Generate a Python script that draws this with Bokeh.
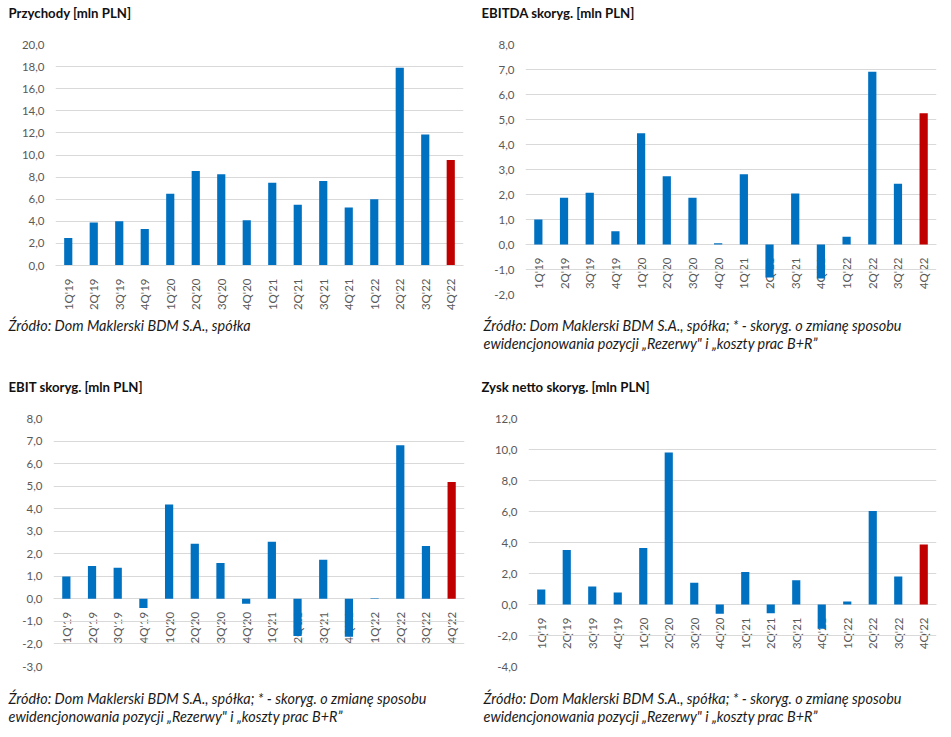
import numpy as np
from bokeh.plotting import figure
from bokeh.models import Range1d, FactorRange, FixedTicker, Title, CustomJSTickFormatter
from bokeh.layouts import row, column
from bokeh.embed import file_html
from bokeh.resources import INLINE

quarters = ["1Q'19", "2Q'19", "3Q'19", "4Q'19", "1Q'20", "2Q'20", "3Q'20", "4Q'20",
            "1Q'21", "2Q'21", "3Q'21", "4Q'21", "1Q'22", "2Q'22", "3Q'22", "4Q'22"]
forecast_quarter = "4Q'22"

przychody = [2.5, 3.9, 4.0, 3.3, 6.5, 8.55, 8.25, 4.1, 7.5, 5.5, 7.65, 5.25, 6.0, 17.9, 11.85, 9.55]
ebitda = [1.0, 1.87, 2.07, 0.53, 4.45, 2.73, 1.87, 0.05, 2.81, -1.32, 2.04, -1.36, 0.31, 6.91, 2.43, 5.25]
ebit = [0.99, 1.46, 1.38, -0.41, 4.18, 2.44, 1.59, -0.22, 2.53, -1.65, 1.74, -1.68, 0.03, 6.81, 2.35, 5.18]
zysk = [0.96, 3.51, 1.16, 0.77, 3.64, 9.8, 1.41, -0.6, 2.1, -0.56, 1.56, -1.56, 0.19, 6.03, 1.8, 3.87]

titles = ["Przychody [mln PLN]", "EBITDA skoryg. [mln PLN]", "EBIT skoryg. [mln PLN]",
          "Zysk netto skoryg. [mln PLN]"]
caption_short = "Źródło: Dom Maklerski BDM S.A., spółka"
caption_long = ("Źródło: Dom Maklerski BDM S.A., spółka; * - skoryg. o zmianę sposobu\n"
                "ewidencjonowania pozycji „Rezerwy\" i „koszty prac B+R”")

BLUE = "#0070C0"
RED = "#C00000"
FONT = "Lato"
TITLE_SIZE = 13.2


def spacer(size):
    return Title(text=" ", text_font_size="1px", standoff=max(size - 3, 0))


def panel(title, values, ylo, yhi, ystep, caption, frame_w, frame_h, bl, br, bt, bb,
          title_off, title_top, cap_off, cap_gap, fixed_axis):
    p = figure(x_range=FactorRange(*quarters, range_padding=0),
               y_range=Range1d(ylo, yhi),
               frame_width=frame_w, frame_height=frame_h,
               min_border_left=bl, min_border_right=br,
               min_border_top=bt, min_border_bottom=bb,
               output_backend="svg", toolbar_location=None)
    title_h = 2 + TITLE_SIZE * 1.2
    p.title = Title(text=title, text_font=FONT, text_font_size=f"{TITLE_SIZE}px",
                    text_font_style="bold", text_color="#111111", text_line_height=1.2,
                    offset=title_off, standoff=2 * title_top, vertical_align="top")
    p.add_layout(spacer(int(round(bt - title_h - 2 * title_top))), "above")

    colors = [RED if q == forecast_quarter else BLUE for q in quarters]
    p.vbar(x=quarters, top=values, bottom=0, width=0.32, fill_color=colors,
           line_color=None)
    ticks = [float(t) for t in np.arange(ylo, yhi + ystep / 2, ystep)]
    p.yaxis.ticker = FixedTicker(ticks=ticks)
    p.ygrid.ticker = FixedTicker(ticks=ticks)
    p.yaxis.formatter = CustomJSTickFormatter(code="return tick.toFixed(1).replace('.', ',');")
    p.yaxis.axis_line_color = None
    p.yaxis.major_tick_line_color = None
    p.yaxis.minor_tick_line_color = None
    p.yaxis.major_label_text_font = FONT
    p.yaxis.major_label_text_font_size = "11.5px"
    p.yaxis.major_label_text_color = "#595959"
    p.yaxis.major_label_standoff = 5
    p.xaxis.major_label_orientation = np.pi / 2
    p.xaxis.major_label_text_font = FONT
    p.xaxis.major_label_text_font_size = "11.5px"
    p.xaxis.major_label_text_color = "#595959"
    p.xaxis.axis_line_color = "#D9D9D9"
    p.xaxis.major_tick_line_color = None
    p.xaxis.minor_tick_line_color = None
    p.xaxis.major_label_standoff = 7
    if fixed_axis:
        p.xaxis.fixed_location = 0
        p.xaxis.level = "underlay"
    p.xgrid.grid_line_color = None
    p.ygrid.grid_line_color = "#D9D9D9"
    p.outline_line_color = None
    p.add_layout(spacer(cap_gap), "below")
    p.add_layout(Title(text=caption, text_font=FONT, text_font_size="14.4px",
                       text_font_style="italic", text_color="#1a1a1a",
                       text_line_height=1.1, vertical_align="top",
                       offset=cap_off, standoff=0), "below")
    return p


p1 = panel(titles[0], przychody, 0, 20, 2, caption_short, 408, 221, 55, 12, 44, 105,
           -47, 4, -47, 3, False)
p2 = panel(titles[1], ebitda, -2, 8, 1, caption_long, 411, 250, 50, 7, 44, 76,
           -44, 4, -42, 22, True)
p3 = panel(titles[2], ebit, -3, 8, 1, caption_long, 411, 248, 53, 11, 48, 62,
           -45, 8, -45, 23, True)
p4 = panel(titles[3], zysk, -4, 12, 2, caption_long, 408, 248, 53, 7, 48, 62,
           -47, 8, -45, 23, True)

layout = column(row(p1, p2), row(p3, p4))
open("out.html", "w").write(file_html(layout, INLINE))
